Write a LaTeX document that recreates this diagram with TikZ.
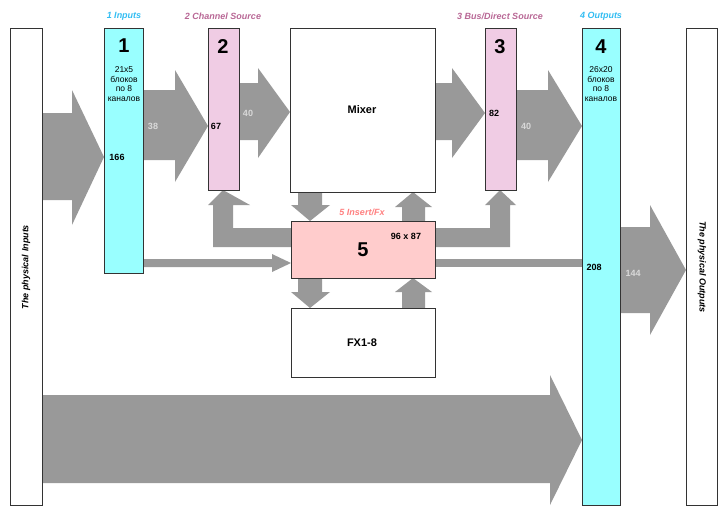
\documentclass[tikz,border=0pt]{standalone}
\usepackage{fontspec}
\setmainfont{Liberation Sans}
\begin{document}
\begin{tikzpicture}[x=1pt,y=-1pt,
  box/.style={draw=black!80,line width=1.2pt,anchor=north west,inner sep=0pt},
  arr/.style={fill=black!40},
  big/.style={font=\bfseries\fontsize{20}{20}\selectfont},
  sm/.style={font=\fontsize{8.5}{9.5}\selectfont,align=center},
  num/.style={font=\bfseries\fontsize{9}{10}\selectfont},
  wnum/.style={font=\bfseries\fontsize{9}{10}\selectfont,text=white!85!black},
  ttl/.style={font=\bfseries\itshape\fontsize{9}{10}\selectfont}]
\useasboundingbox (0,0) rectangle (725,517);
\definecolor{cy}{HTML}{99FFFF}\definecolor{pk}{HTML}{F0CCE4}\definecolor{sal}{HTML}{FFCCCC}
% arrows
\fill[arr] (42,113)--(72,113)--(72,90)--(104,157)--(72,225)--(72,200)--(42,200)--cycle;
\fill[arr] (143,90)--(175,90)--(175,70)--(208,126)--(175,182)--(175,160)--(143,160)--cycle;
\fill[arr] (239,83)--(258,83)--(258,68)--(290,112)--(258,158)--(258,140)--(239,140)--cycle;
\fill[arr] (435,83)--(452,83)--(452,68)--(485,113)--(452,158)--(452,140)--(435,140)--cycle;
\fill[arr] (516,90)--(548,90)--(548,70)--(582,126)--(548,182)--(548,160)--(516,160)--cycle;
\fill[arr] (620,227)--(650,227)--(650,205)--(686,270)--(650,335)--(650,313)--(620,313)--cycle;
\fill[arr] (42,395)--(550,395)--(550,375)--(582,440)--(550,505)--(550,483)--(42,483)--cycle;
% thin arrows
\fill[arr] (143,259)--(272,259)--(272,254)--(291,263)--(272,272)--(272,267)--(143,267)--cycle;
\fill[arr] (435,259)--(582,259)--(582,267)--(435,267)--cycle;
% L arrows
\fill[arr] (291,228)--(233,228)--(233,205)--(250,205)--(223,190)--(208,205)--(213,205)--(213,247)--(291,247)--cycle;
\fill[arr] (435,228)--(490,228)--(490,205)--(485,205)--(500,190)--(516,205)--(510,205)--(510,247)--(435,247)--cycle;
% vertical arrows
\fill[arr] (298,192)--(322,192)--(322,205)--(330,205)--(310,221)--(291,205)--(298,205)--cycle;
\fill[arr] (402,221)--(425,221)--(425,207)--(432,207)--(413,192)--(395,207)--(402,207)--cycle;
\fill[arr] (298,278)--(322,278)--(322,292)--(330,292)--(310,308)--(291,292)--(298,292)--cycle;
\fill[arr] (402,308)--(425,308)--(425,292)--(432,292)--(413,278)--(395,292)--(402,292)--cycle;
% boxes
\node[box,fill=white,minimum width=32,minimum height=477] (pin) at (10,28) {};
\node[box,fill=white,minimum width=31,minimum height=477] (pout) at (686,28) {};
\node[box,fill=cy,minimum width=39,minimum height=245] (b1) at (104,28) {};
\node[box,fill=pk,minimum width=31,minimum height=162] (b2) at (208,28) {};
\node[box,fill=white,minimum width=145,minimum height=164] (mix) at (290,28) {};
\node[box,fill=pk,minimum width=31,minimum height=162] (b3) at (485,28) {};
\node[box,fill=cy,minimum width=38,minimum height=477] (b4) at (582,28) {};
\node[box,fill=sal,minimum width=144,minimum height=57] (b5) at (291,221) {};
\node[box,fill=white,minimum width=144,minimum height=69] (fx) at (291,308) {};
% texts
\node[font=\bfseries\itshape\fontsize{9}{10}\selectfont,rotate=90] (tin) at (26,267) {The physical Inputs};
\node[font=\bfseries\itshape\fontsize{9}{10}\selectfont,rotate=-90] (tout) at (702,267) {The physical Outputs};
\node[ttl,text=cyan!80!white] (l1) at (124,16) {1 Inputs};
\node[ttl,text=violet!40!pink!90!black] (l2) at (223,16) {2 Channel Source};
\node[ttl,text=violet!40!pink!90!black] (l3) at (500,16) {3 Bus/Direct Source};
\node[ttl,text=cyan!80!white] (l4) at (601,16) {4 Outputs};
\node[ttl,text=red!50!white] (l5) at (362,212) {5 Insert/Fx};
\node[big] (n1) at (124,46) {1};
\node[big] (n2) at (223,47) {2};
\node[big] (n3) at (500,47) {3};
\node[big] (n4) at (601,47) {4};
\node[big] (n5) at (363,250) {5};
\node[sm] (t1) at (124,84) {21x5\\блоков\\по 8\\каналов};
\node[sm] (t4) at (601,84) {26x20\\блоков\\по 8\\каналов};
\node[num] at (117,157) {166};
\node[num] at (216,126) {67};
\node[num] at (494,113) {82};
\node[num] at (594,267) {208};
\node[num] at (406,236) {96 x 87};
\node[wnum] at (153,126) {38};
\node[wnum] at (248,113) {40};
\node[wnum] at (526,126) {40};
\node[wnum] at (633,273) {144};
\node[font=\bfseries\fontsize{11}{12}\selectfont] at (362,110) {Mixer};
\node[font=\bfseries\fontsize{11}{12}\selectfont] at (362,343) {FX1-8};
\end{tikzpicture}
\end{document}
